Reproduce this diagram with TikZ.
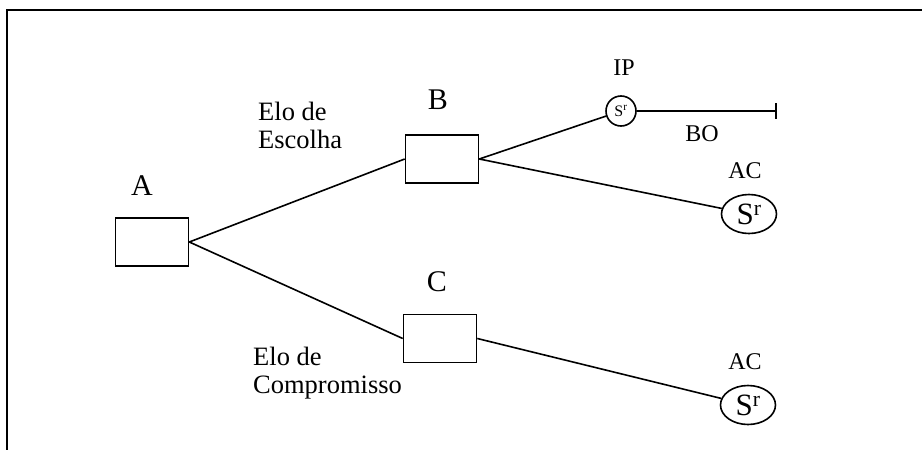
\documentclass[tikz,border=0pt]{standalone}
\usepackage{fontspec}
\setmainfont{Liberation Serif}
\usetikzlibrary{shapes.geometric}
\begin{document}
\begin{tikzpicture}[x=1pt,y=-1pt,
  box/.style={draw,line width=1.6pt,minimum width=73pt,minimum height=48pt,inner sep=0pt},
  lbl/.style={inner sep=0pt,font=\fontsize{30}{32}\selectfont},
  sml/.style={inner sep=0pt,font=\fontsize{24}{26}\selectfont},
  elo/.style={inner sep=0pt,align=left,anchor=west,font=\fontsize{26.5}{28}\selectfont},
  rein/.style={draw,ellipse,line width=1.6pt,minimum width=55pt,minimum height=39pt,inner sep=0pt,font=\fontsize{31}{32}\selectfont},
  ip/.style={draw,circle,line width=1.6pt,minimum size=30pt,inner sep=0pt,font=\fontsize{16}{17}\selectfont},
  conn/.style={line width=1.6pt}]
\useasboundingbox (0,0) rectangle (922,450);
% frame
\coordinate (f2) at (922,10);
\coordinate (f3) at (7,450);
\draw[line width=2pt] (f3) -- (7,10) -- (f2);
% boxes
\node[box] (A) at (152,242) {};
\node[box] (B) at (442,159) {};
\node[box] (C) at (440,338.5) {};
\node[lbl] (la) at (142,186) {A};
\node[lbl] (lb) at (438,100) {B};
\node[lbl] (lc) at (437,282) {C};
% reinforcers
\node[ip] (IP) at (621,111) {S\textsuperscript{r}};
\node[rein] (R1) at (749,214) {S\textsuperscript{r}};
\node[rein] (R2) at (748,405) {S\textsuperscript{r}};
\node[sml] (lip) at (624,68) {IP};
\node[sml] (lbo) at (702,134) {BO};
\node[sml] (lac1) at (745,171) {AC};
\node[sml] (lac2) at (745,362) {AC};
\coordinate (end) at (776,111);
\coordinate (t1) at (776,103);
\coordinate (t2) at (776,119);
% link labels
\node[elo] (e1) at (258,125) {Elo de\\Escolha};
\node[elo] (e2) at (253,373) {Elo de\\Compromisso};
% connectors
\draw[conn] (A.east) -- (B.west);
\draw[conn] (A.east) -- (C.west);
\draw[conn] (B.east) -- (IP);
\draw[conn] (B.east) -- (R1);
\draw[conn] (C.east) -- (R2);
\draw[conn] (IP) -- (end);
\draw[conn] (t1) -- (t2);
\end{tikzpicture}
\end{document}
